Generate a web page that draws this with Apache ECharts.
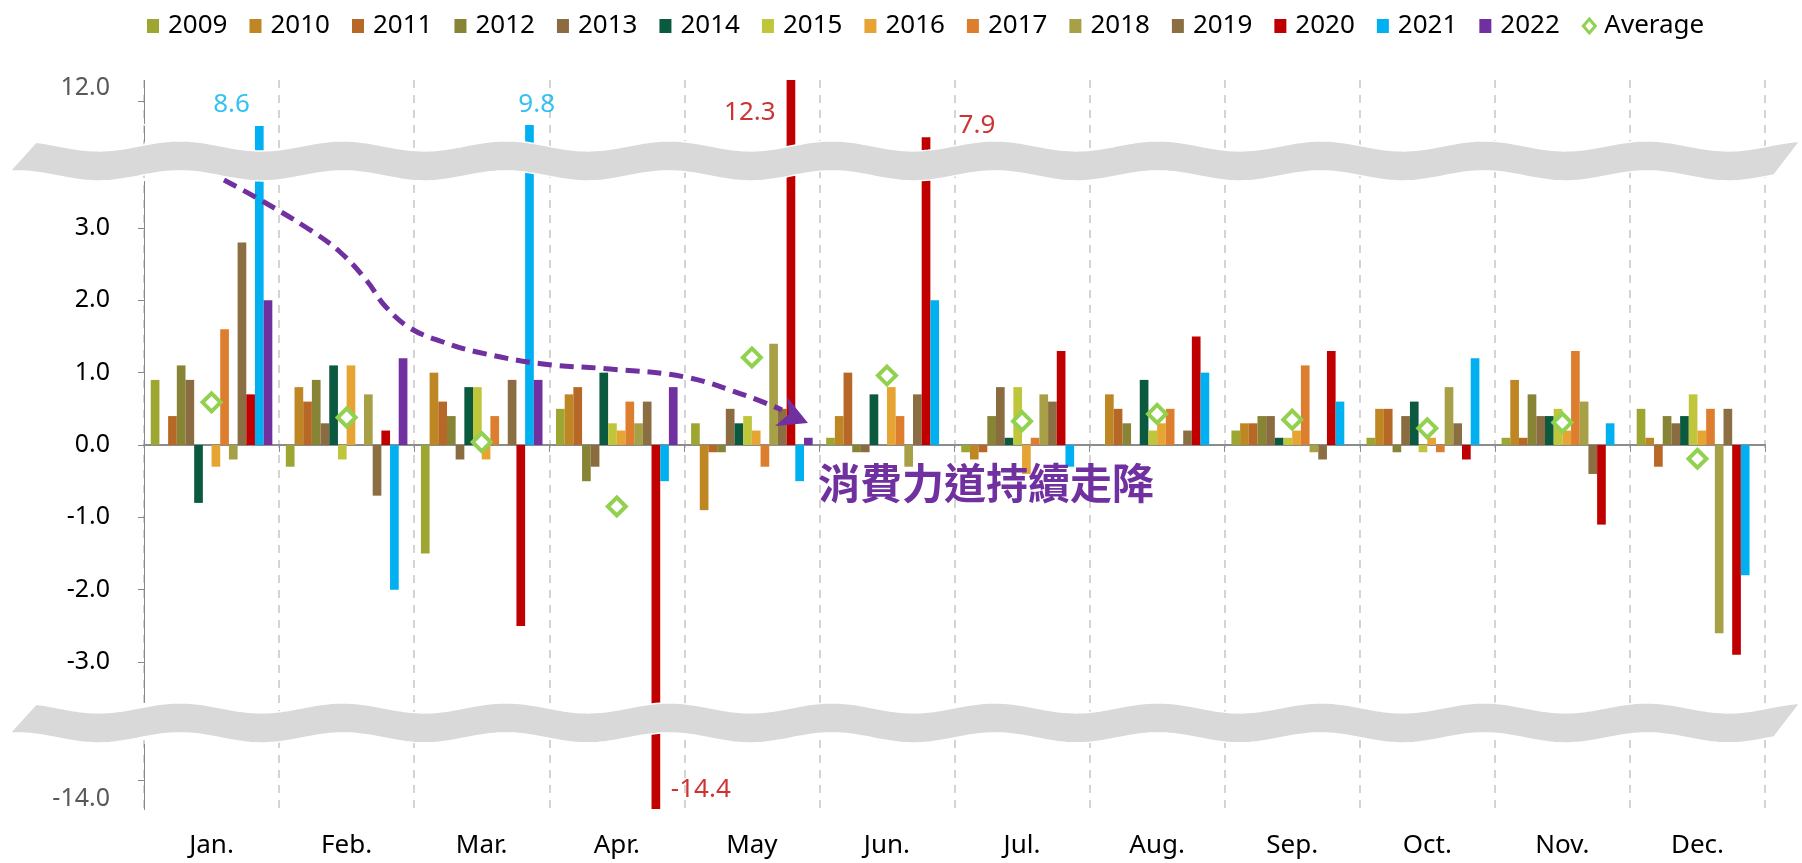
<!DOCTYPE html>
<html lang="zh-Hant">
<head>
    <meta charset="UTF-8">
    <title>Monthly change</title>
    <script src="https://cdn.jsdelivr.net/npm/echarts@6.0.0/dist/echarts.min.js"></script>
    <style>
        html, body { margin: 0; padding: 0; background: #fff; }
    </style>
</head>
<body>
<div id="main" style="width: 1802px;height:863px"></div>
<script>
    const months = ['Jan.', 'Feb.', 'Mar.', 'Apr.', 'May', 'Jun.', 'Jul.', 'Aug.', 'Sep.', 'Oct.', 'Nov.', 'Dec.']
    const years = ['2009', '2010', '2011', '2012', '2013', '2014', '2015', '2016', '2017', '2018', '2019', '2020', '2021', '2022']

    const y2009 = [0.9, -0.3, -1.5, 0.5, 0.3, 0.1, -0.1, 0.0, 0.2, 0.1, 0.1, 0.5]
    const y2010 = [0.0, 0.8, 1.0, 0.7, -0.9, 0.4, -0.2, 0.7, 0.3, 0.5, 0.9, 0.1]
    const y2011 = [0.4, 0.6, 0.6, 0.8, -0.1, 1.0, -0.1, 0.5, 0.3, 0.5, 0.1, -0.3]
    const y2012 = [1.1, 0.9, 0.4, -0.5, -0.1, -0.1, 0.4, 0.3, 0.4, -0.1, 0.7, 0.4]
    const y2013 = [0.9, 0.3, -0.2, -0.3, 0.5, -0.1, 0.8, 0.0, 0.4, 0.4, 0.4, 0.3]
    const y2014 = [-0.8, 1.1, 0.8, 1.0, 0.3, 0.7, 0.1, 0.9, 0.1, 0.6, 0.4, 0.4]
    const y2015 = [0.0, -0.2, 0.8, 0.3, 0.4, 0.0, 0.8, 0.2, 0.1, -0.1, 0.5, 0.7]
    const y2016 = [-0.3, 1.1, -0.2, 0.2, 0.2, 0.8, -0.4, 0.3, 0.2, 0.1, 0.2, 0.2]
    const y2017 = [1.6, 0.0, 0.4, 0.6, -0.3, 0.4, 0.1, 0.5, 1.1, -0.1, 1.3, 0.5]
    const y2018 = [-0.2, 0.7, 0.0, 0.3, 1.4, -0.3, 0.7, 0.0, -0.1, 0.8, 0.6, -2.6]
    const y2019 = [2.8, -0.7, 0.9, 0.6, 0.5, 0.7, 0.6, 0.2, -0.2, 0.3, -0.4, 0.5]
    const y2020 = [0.7, 0.2, -2.5, -14.4, 12.3, 7.9, 1.3, 1.5, 1.3, -0.2, -1.1, -2.9]
    const y2021 = [8.6, -2.0, 9.8, -0.5, -0.5, 2.0, -0.3, 1.0, 0.6, 1.2, 0.3, -1.8]
    const y2022 = [2.0, 1.2, 0.9, 0.8, 0.1, null, null, null, null, null, null, null]
    const average = [0.59, 0.38, 0.04, -0.85, 1.21, 0.96, 0.33, 0.43, 0.35, 0.23, 0.31, -0.19]

    const yearValues = [y2009, y2010, y2011, y2012, y2013, y2014, y2015, y2016, y2017, y2018, y2019, y2020, y2021, y2022]
    const yTicks = [-14, -3, -2, -1, 0, 1, 2, 3, 12]

    const colors = ['#9da630', '#bf8624', '#b86826', '#878436', '#8a6c40', '#0b5a3f', '#bfc63c',
        '#e6a533', '#dc7e2e', '#a7a046', '#8b6f43', '#c00000', '#00b0f0', '#7030a0']

    // value labels for the out-of-range bars (year, month index, offset from the point)
    const callouts = [
        {year: '2021', month: 0, offset: [20, -21], color: '#00b0f0'},
        {year: '2021', month: 2, offset: [55, -20], color: '#00b0f0'},
        {year: '2020', month: 4, offset: [-2, 33], color: '#c00000'},
        {year: '2020', month: 5, offset: [90, -12], color: '#c00000'},
        {year: '2020', month: 3, offset: [84, -19], color: '#c00000'}
    ]

    const font = '"Noto Sans", "Noto Sans CJK TC", sans-serif'
    const myChart = echarts.init(document.getElementById('main'))

    const series = years.map(function (y, i) {
        return {
            name: y,
            type: 'bar',
            data: yearValues[i],
            itemStyle: {color: colors[i]},
            barGap: '0%',
            barCategoryGap: '10%'
        }
    })
    series.push({
        name: 'Average',
        type: 'scatter',
        data: average,
        symbol: 'diamond',
        symbolSize: 18,
        itemStyle: {color: '#fff', borderColor: '#92d050', borderWidth: 4, opacity: 1},
        z: 5
    })
    series.push({
        name: 'labels',
        type: 'scatter',
        silent: true,
        symbolSize: 1,
        itemStyle: {color: 'rgba(0,0,0,0)'},
        data: callouts.map(function (c) {
            return {
                value: [c.month, yearValues[years.indexOf(c.year)][c.month]],
                label: {color: c.color, offset: c.offset}
            }
        }),
        label: {
            show: true,
            position: 'inside',
            fontSize: 26,
            formatter: function (p) {
                return p.value[1].toFixed(1)
            }
        },
        z: 20
    })

    const option = {
        animation: false,
        textStyle: {fontFamily: font},
        legend: {
            top: 8,
            left: 142,
            itemWidth: 12,
            itemHeight: 14,
            itemGap: 22,
            textStyle: {fontSize: 26, color: '#000', padding: [0, 0, 0, 4]},
            data: years.map(function (y) {
                return {name: y, icon: 'rect'}
            }).concat([{
                name: 'Average', icon: 'diamond',
                itemStyle: {color: '#fff', borderColor: '#92d050', borderWidth: 3}
            }])
        },
        grid: {left: 144, right: 37, top: 80, bottom: 54},
        xAxis: [{
            type: 'category',
            data: months,
            axisLine: {onZero: true, lineStyle: {color: '#8c8c8c', width: 2}},
            axisTick: {show: true, length: 7, lineStyle: {color: '#8c8c8c'}},
            axisLabel: {show: false},
            splitLine: {show: false}
        }, {
            type: 'category',
            data: months,
            position: 'bottom',
            axisLine: {show: false, onZero: false},
            axisTick: {show: false},
            axisLabel: {show: true, fontSize: 26, color: '#000', margin: 24},
            splitLine: {show: true, lineStyle: {color: '#d4d4d4', type: [8, 7], width: 2}}
        }],
        yAxis: {
            type: 'value',
            min: -14.4,
            max: 12.3,
            breaks: [
                {start: -13.5, end: -3.55, gap: '5.76%'},
                {start: 3.65, end: 7.85, gap: '5.49%'},
                {start: 8.05, end: 11.7, gap: '0.41%'}
            ],
            breakArea: {show: false, itemStyle: {opacity: 0}},
            splitLine: {show: false},
            axisLine: {show: true, lineStyle: {color: '#898989', width: 1}},
            axisTick: {show: true, length: 6, customValues: yTicks, lineStyle: {color: '#898989'}},
            axisLabel: {
                customValues: yTicks,
                margin: 34,
                fontSize: 25,
                color: '#000',
                formatter: function (v) {
                    if (v === 12) return '{up|12.0}'
                    if (v === -14) return '{down|-14.0}'
                    return v.toFixed(1)
                },
                rich: {
                    up: {fontSize: 25, color: '#595959', padding: [0, 0, 28, 0]},
                    down: {fontSize: 25, color: '#595959', padding: [38, 0, 0, 0]}
                }
            }
        },
        series: series
    }
    myChart.setOption(option)

    // wavy grey bands over the axis breaks
    function wavyBand(yc) {
        const half = 15, amp = 5, period = 163, crest = 180
        const x0 = 8, x1 = 1802, slant = 28
        const pts = []
        for (let x = x0 + slant; x <= x1; x += 4) {
            pts.push([x, yc - half - amp * Math.cos(2 * Math.PI * (x - crest) / period)])
        }
        for (let x = x1 - slant; x >= x0; x -= 4) {
            pts.push([x, yc + half - amp * Math.cos(2 * Math.PI * (x - crest) / period)])
        }
        return pts
    }

    const py = function (v) {
        return myChart.convertToPixel({yAxisIndex: 0}, v)
    }
    const topBand = (py(3.65) + py(7.85)) / 2
    const bottomBand = (py(-13.5) + py(-3.55)) / 2

    const arrowPath = [[224, 180], [257, 198], [307, 228], [340, 252], [367, 281], [385, 306], [410, 328],
        [443, 342], [477, 352], [543, 364], [610, 369], [685, 377], [747, 396], [782, 410]]

    myChart.setOption({
        graphic: [
            {
                type: 'polyline', silent: true, z: 30,
                shape: {points: arrowPath, smooth: 0.4},
                style: {stroke: '#7030a0', lineWidth: 5, lineDash: [14, 8], fill: null}
            },
            {
                type: 'polygon', silent: true, z: 30,
                shape: {points: [[808, 423], [787, 397], [789, 414], [775, 426]]},
                style: {fill: '#7030a0'}
            },
            {
                type: 'text', silent: true, z: 30, left: 818, top: 462,
                style: {
                    text: '消費力道持續走降', fill: '#7030a0', fontSize: 42, fontWeight: 'bold',
                    fontFamily: '"Noto Sans CJK TC", sans-serif'
                }
            },
            {
                type: 'polygon', silent: true, z: 100,
                shape: {points: wavyBand(topBand)},
                style: {fill: '#d9d9d9', stroke: '#fff', lineWidth: 1.5}
            },
            {
                type: 'polygon', silent: true, z: 100,
                shape: {points: wavyBand(bottomBand)},
                style: {fill: '#d9d9d9', stroke: '#fff', lineWidth: 1.5}
            }
        ]
    })
</script>
</body>
</html>
